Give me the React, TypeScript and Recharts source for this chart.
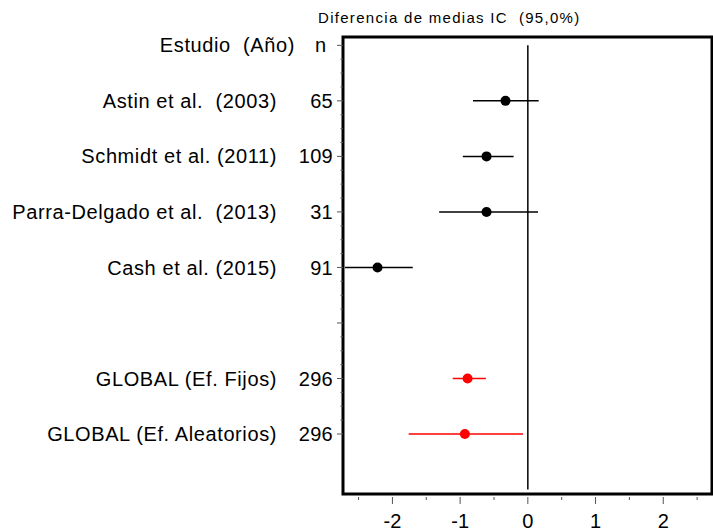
import { ScatterChart, Scatter, XAxis, YAxis, ErrorBar, ReferenceLine, ReferenceArea } from "recharts";

const studies = ["Astin et al.  (2003)", "Schmidt et al. (2011)", "Parra-Delgado et al.  (2013)", "Cash et al. (2015)"];
const studyN = [65, 109, 31, 91];
const studyMean = [-0.33, -0.61, -0.61, -2.22];
const studyLow = [-0.81, -0.96, -1.31, -2.7];
const studyHigh = [0.16, -0.21, 0.15, -1.7];

const globals = ["GLOBAL (Ef. Fijos)", "GLOBAL (Ef. Aleatorios)"];
const globalN = [296, 296];
const globalMean = [-0.89, -0.93];
const globalLow = [-1.11, -1.76];
const globalHigh = [-0.62, -0.07];

const xTicks = [-2.5, -2, -1.5, -1, -0.5, 0, 0.5, 1, 1.5, 2, 2.5];

const studyData = studies.map((s, i) => ({
	row: i + 1,
	mean: studyMean[i],
	err: [studyMean[i] - studyLow[i], studyHigh[i] - studyMean[i]],
}));
const globalData = globals.map((s, i) => ({
	row: i + 6,
	mean: globalMean[i],
	err: [globalMean[i] - globalLow[i], globalHigh[i] - globalMean[i]],
}));

const rowLabels: Record<number, [string, string]> = {};
studies.forEach((s, i) => (rowLabels[i + 1] = [s, String(studyN[i])]));
globals.forEach((s, i) => (rowLabels[i + 6] = [s, String(globalN[i])]));

const yTicks = Array.from({ length: 29 }, (_, i) => i / 4);

const font = "'Liberation Sans', Arial, sans-serif";

const YTick = (props: any) => {
	const { x, y, payload } = props;
	const v = payload.value;
	const major = Number.isInteger(v);
	const lbl = rowLabels[v];
	return (
		<g>
			<line x1={x - (major ? 6 : 2.5)} x2={x} y1={y} y2={y} stroke="#555" strokeWidth={1} />
			{v === 0 && (
				<>
					<text x={295} y={y} dy="0.355em" textAnchor="end" fontSize={20} fontFamily={font} fill="#000" style={{ whiteSpace: "pre", letterSpacing: 0.6 }}>
						{"Estudio  (Año)"}
					</text>
					<text x={315} y={y} dy="0.355em" textAnchor="start" fontSize={20} fontFamily={font} fill="#000">
						n
					</text>
				</>
			)}
			{lbl && (
				<>
					<text x={277} y={y} dy="0.355em" textAnchor="end" fontSize={20} fontFamily={font} fill="#000" style={{ whiteSpace: "pre", letterSpacing: 0.6 }}>
						{lbl[0]}
					</text>
					<text x={333} y={y} dy="0.355em" textAnchor="end" fontSize={20} fontFamily={font} fill="#000" style={{ letterSpacing: 0.3 }}>
						{lbl[1]}
					</text>
				</>
			)}
		</g>
	);
};

const XTick = (props: any) => {
	const { x, y, payload } = props;
	const v = payload.value;
	const major = Number.isInteger(v);
	return (
		<g>
			<line x1={x} x2={x} y1={y + 3} y2={y + (major ? 10 : 6)} stroke="#555" strokeWidth={1} />
			{major && (
				<text x={x} y={y + 27} dy="0.355em" textAnchor="middle" fontSize={20} fontFamily={font} fill="#000">
					{v}
				</text>
			)}
		</g>
	);
};

export default function App() {
	return (
		<div style={{ position: "absolute", left: 0, top: 0, width: 713, height: 531, background: "#fff" }}>
			<ScatterChart width={713} height={531} margin={{ top: 37, right: 1, left: 0, bottom: 0 }}>
				<XAxis
					type="number"
					dataKey="mean"
					domain={[-2.73, 2.72]}
					ticks={xTicks}
					height={37}
					axisLine={false}
					tickLine={false}
					tickSize={0}
					tickMargin={0}
					tick={<XTick />}
					allowDataOverflow
				/>
				<YAxis
					type="number"
					dataKey="row"
					domain={[-0.15, 8.08]}
					reversed
					ticks={yTicks}
					width={343}
					axisLine={false}
					tickLine={false}
					tickSize={0}
					tickMargin={0}
					tick={<YTick />}
					interval={0}
					allowDataOverflow
				/>
				<ReferenceArea x1={-2.73} x2={2.72} y1={-0.15} y2={8.08} fill="none" stroke="#000" strokeWidth={3} />
				<ReferenceLine segment={[{ x: 0, y: 0 }, { x: 0, y: 8 }]} stroke="#000" strokeWidth={1.5} />
				<Scatter data={studyData} fill="#000" isAnimationActive={false} shape={(p: any) => <circle cx={p.cx} cy={p.cy} r={5} fill="#000" />}>
					<ErrorBar dataKey="err" direction="x" width={0} stroke="#000" strokeWidth={1.5} />
				</Scatter>
				<Scatter data={globalData} fill="#ff0000" isAnimationActive={false} shape={(p: any) => <circle cx={p.cx} cy={p.cy} r={5} fill="#ff0000" />}>
					<ErrorBar dataKey="err" direction="x" width={0} stroke="#ff0000" strokeWidth={1.5} />
				</Scatter>
				<text x={318} y={18} dy="0.355em" fontSize={15} fontFamily={font} fill="#000" style={{ whiteSpace: "pre", letterSpacing: 1.3 }}>
					{"Diferencia de medias IC  (95,0%)"}
				</text>
			</ScatterChart>
		</div>
	);
}
